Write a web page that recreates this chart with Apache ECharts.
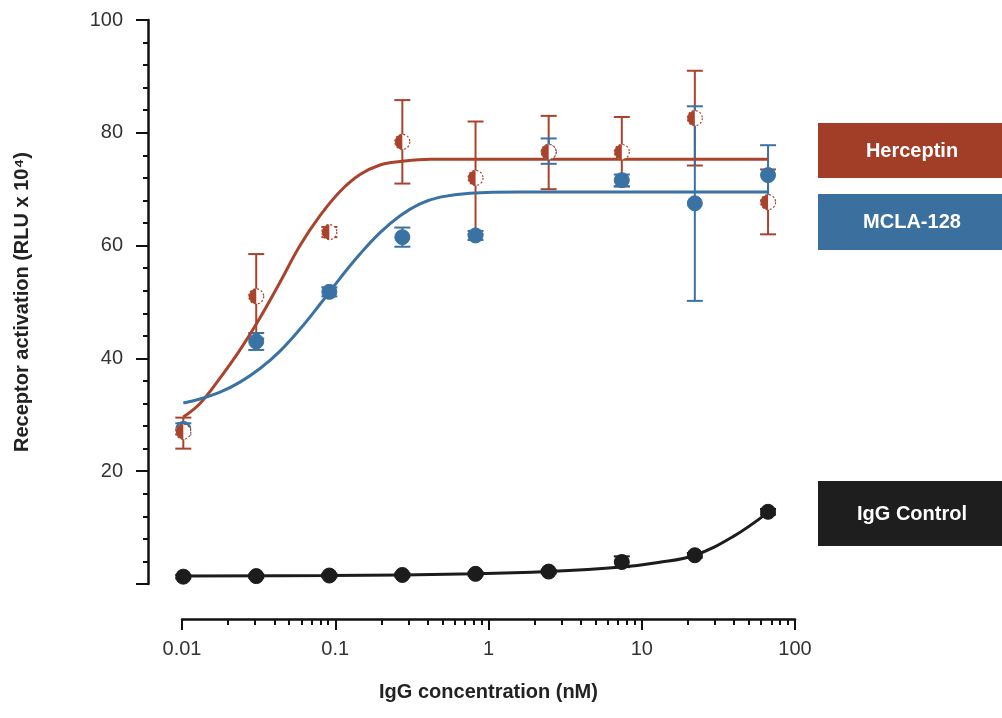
<!DOCTYPE html>
<html>
<head>
<meta charset="utf-8">
<script src="https://cdn.jsdelivr.net/npm/echarts@6/dist/echarts.min.js"></script>
<style>html,body{margin:0;padding:0;background:#fff}#c{width:1002px;height:718px}</style>
</head>
<body>
<div id="c"></div>
<script>
// concentrations (nM) (3-fold dilution series)
const conc = [0.0102, 0.0305, 0.0915, 0.274, 0.823, 2.47, 7.41, 22.2, 66.7];
// Herceptin means and error bars
const hercMean = [27.0, 51.0, 62.4, 78.4, 72.0, 76.6, 76.6, 82.6, 67.7];
const hercLow  = [24.0, 43.5, 61.5, 71.0, 62.0, 70.0, 70.5, 74.2, 62.0];
const hercHigh = [29.5, 58.5, 63.3, 85.8, 82.0, 83.0, 82.8, 91.0, 73.5];
// MCLA-128 means and error bars
const mclaMean = [27.5, 43.0, 51.8, 61.5, 61.8, 76.6, 71.6, 67.5, 72.5];
const mclaLow  = [26.5, 41.5, 51.0, 59.8, 61.0, 74.5, 70.5, 50.2, 68.0];
const mclaHigh = [28.5, 44.5, 52.6, 63.2, 62.6, 79.0, 72.6, 84.7, 77.8];
// IgG control means and error bars
const iggMean = [1.3, 1.4, 1.5, 1.6, 1.8, 2.2, 3.9, 5.1, 12.8];
const iggLow  = [1.0, 1.1, 1.2, 1.3, 1.5, 1.9, 3.0, 4.7, 12.3];
const iggHigh = [1.6, 1.7, 1.8, 1.9, 2.1, 2.5, 4.9, 5.5, 13.3];
// fitted curves
const hercFitX = [0.0102, 0.0131, 0.0177, 0.0239, 0.0323, 0.0436, 0.0589, 0.0795, 0.1074, 0.145, 0.196, 0.265, 0.415, 66.7];
const hercFitY = [29.6, 32.0, 36.5, 41.5, 47.2, 53.5, 60.0, 65.3, 69.6, 72.6, 74.3, 74.9, 75.3, 75.3];
const mclaFitX = [0.0102, 0.0131, 0.0177, 0.0239, 0.0323, 0.0436, 0.0589, 0.0795, 0.1074, 0.145, 0.196, 0.265, 0.357, 0.483, 0.757, 1.61, 66.7];
const mclaFitY = [32.1, 32.8, 34.0, 35.8, 38.2, 41.3, 45.2, 49.6, 54.2, 58.5, 62.3, 65.3, 67.4, 68.6, 69.3, 69.5, 69.5];
const iggFitX = [0.0102, 0.0915, 0.823, 2.47, 7.41, 12.8, 22.2, 39.4, 66.7];
const iggFitY = [1.4, 1.5, 1.8, 2.2, 3.0, 3.8, 5.1, 8.4, 12.7];
// axis ticks
const xMinorTicks = [0.02,0.03,0.04,0.05,0.06,0.07,0.08,0.09,0.2,0.3,0.4,0.5,0.6,0.7,0.8,0.9,2,3,4,5,6,7,8,9,20,30,40,50,60,70,80,90];
const legendNames = ['Herceptin', 'MCLA-128', 'IgG Control'];

const RED = '#aa432c', BLUE = '#3a72a3', BLACK = '#1c1c1c';
const FONT = 'Liberation Sans, Arial, sans-serif';

function zip3(a, b, c) { return a.map((v, i) => [v, b[i], c[i]]); }
function zip2(a, b) { return a.map((v, i) => [v, b[i]]); }

function errorSeries(name, color, low, high) {
  return {
    type: 'custom', name: name, z: 2,
    data: zip3(conc, low, high),
    renderItem: function (params, api) {
      const x = api.value(0);
      const lo = api.coord([x, api.value(1)]);
      const hi = api.coord([x, api.value(2)]);
      const w = 8;
      const st = { stroke: color, lineWidth: 2 };
      return { type: 'group', children: [
        { type: 'line', shape: { x1: lo[0], y1: lo[1], x2: hi[0], y2: hi[1] }, style: st },
        { type: 'line', shape: { x1: lo[0] - w, y1: lo[1], x2: lo[0] + w, y2: lo[1] }, style: st },
        { type: 'line', shape: { x1: hi[0] - w, y1: hi[1], x2: hi[0] + w, y2: hi[1] }, style: st }
      ]};
    }
  };
}
function markerSeries(name, color, mean, half) {
  return {
    type: 'custom', name: name, z: 5,
    data: zip2(conc, mean),
    renderItem: function (params, api) {
      const p = api.coord([api.value(0), api.value(1)]);
      const r = 7.5;
      if (!half) {
        return { type: 'circle', shape: { cx: p[0], cy: p[1], r: r }, style: { fill: color, stroke: color, lineWidth: 1 } };
      }
      return { type: 'group', children: [
        { type: 'circle', shape: { cx: p[0], cy: p[1], r: r }, style: { fill: '#fff', stroke: color, lineWidth: 1.2, lineDash: [2, 2] } },
        { type: 'sector', shape: { cx: p[0], cy: p[1], r: r, r0: 0, startAngle: Math.PI / 2, endAngle: Math.PI * 3 / 2, clockwise: true }, style: { fill: color } }
      ]};
    }
  };
}
function fitSeries(name, color, xs, ys) {
  return {
    type: 'line', name: name, z: 3, smooth: 0.4, symbol: 'none',
    data: zip2(xs, ys),
    lineStyle: { color: color, width: 3 }
  };
}

const chart = echarts.init(document.getElementById('c'));
chart.setOption({
  backgroundColor: '#fff',
  animation: false,
  grid: { left: 182, right: 207, top: 20, bottom: 134 },
  xAxis: [{
    type: 'log', logBase: 10, min: 0.01, max: 100,
    position: 'bottom', offset: 35,
    axisLine: { show: true, onZero: false, lineStyle: { color: '#111', width: 2.5 } },
    axisTick: { show: true, length: 11, lineStyle: { color: '#111', width: 2 } },
    axisLabel: { color: '#333', fontSize: 20, fontFamily: FONT, margin: 20 },
    splitLine: { show: false },
    name: 'IgG concentration (nM)', nameLocation: 'middle', nameGap: 63,
    nameTextStyle: { color: '#222', fontSize: 20, fontWeight: 'bold', fontFamily: FONT }
  }, {
    type: 'log', logBase: 10, min: 0.01, max: 100,
    position: 'bottom', offset: 35,
    axisLine: { show: false, onZero: false },
    axisTick: { show: true, length: 6, customValues: xMinorTicks, lineStyle: { color: '#111', width: 2 } },
    axisLabel: { show: false },
    splitLine: { show: false }
  }],
  yAxis: {
    type: 'value', min: 0, max: 100, interval: 20, offset: 34,
    axisLine: { show: true, lineStyle: { color: '#111', width: 2.5 } },
    axisTick: { show: true, length: 12, lineStyle: { color: '#111', width: 2 } },
    minorTick: { show: true, splitNumber: 5, length: 5, lineStyle: { color: '#111', width: 2 } },
    axisLabel: { color: '#333', fontSize: 20, fontFamily: FONT, margin: 25,
      formatter: function (v) { return v === 0 ? '' : String(v); } },
    splitLine: { show: false },
    name: 'Receptor activation (RLU x 10⁴)', nameLocation: 'middle', nameGap: 116,
    nameTextStyle: { color: '#222', fontSize: 20, fontWeight: 'bold', fontFamily: FONT }
  },
  series: [
    errorSeries('Herceptin err', RED, hercLow, hercHigh),
    errorSeries('MCLA-128 err', BLUE, mclaLow, mclaHigh),
    errorSeries('IgG err', BLACK, iggLow, iggHigh),
    fitSeries('Herceptin fit', RED, hercFitX, hercFitY),
    fitSeries('MCLA-128 fit', BLUE, mclaFitX, mclaFitY),
    fitSeries('IgG fit', BLACK, iggFitX, iggFitY),
    markerSeries('MCLA-128', BLUE, mclaMean, false),
    markerSeries('Herceptin', RED, hercMean, true),
    markerSeries('IgG Control', BLACK, iggMean, false)
  ],
  graphic: [
    { type: 'group', left: 818, top: 123, children: [
      { type: 'rect', shape: { x: 0, y: 0, width: 184, height: 55 }, style: { fill: '#a23d27' } },
      { type: 'text', x: 94, y: 28, style: { text: legendNames[0], fill: '#fff', font: 'bold 20px ' + FONT, textAlign: 'center', textVerticalAlign: 'middle' } }
    ]},
    { type: 'group', left: 818, top: 194, children: [
      { type: 'rect', shape: { x: 0, y: 0, width: 184, height: 56 }, style: { fill: '#3b6f9e' } },
      { type: 'text', x: 94, y: 28, style: { text: legendNames[1], fill: '#fff', font: 'bold 20px ' + FONT, textAlign: 'center', textVerticalAlign: 'middle' } }
    ]},
    { type: 'group', left: 818, top: 481, children: [
      { type: 'rect', shape: { x: 0, y: 0, width: 184, height: 65 }, style: { fill: '#1e1e1e' } },
      { type: 'text', x: 94, y: 33, style: { text: legendNames[2], fill: '#fff', font: 'bold 20px ' + FONT, textAlign: 'center', textVerticalAlign: 'middle' } }
    ]}
  ]
});
</script>
</body>
</html>
